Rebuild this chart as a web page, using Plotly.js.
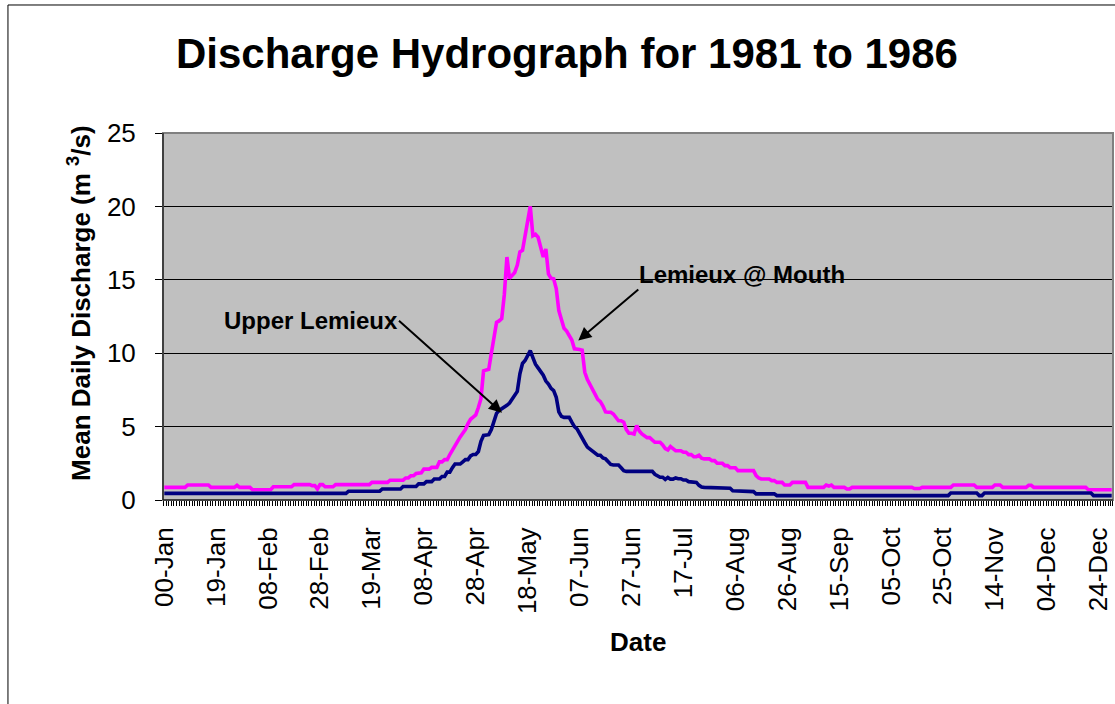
<!DOCTYPE html>
<html>
<head>
<meta charset="utf-8">
<script src="https://cdn.plot.ly/plotly-3.0.1.min.js"></script>
<style>html,body{margin:0;padding:0;background:#fff;}#chart{width:1115px;height:704px;}</style>
</head>
<body>
<div id="chart"></div>
<script>
// Tick labels (every 20th daily category)
const tickLabels = ["00-Jan","19-Jan","08-Feb","28-Feb","19-Mar","08-Apr","28-Apr","18-May","07-Jun","27-Jun","17-Jul","06-Aug","26-Aug","15-Sep","05-Oct","25-Oct","14-Nov","04-Dec","24-Dec"];
const tickStep = 20;

// Lemieux @ Mouth – mean daily discharge (m3/s), one value per day-category
const lemieuxMouth = [
0.86,0.86,0.86,0.86,0.86,0.86,0.86,0.86,0.86,1.02,
1.02,1.02,1.02,1.02,1.02,1.02,1.02,1.02,0.86,0.86,
0.86,0.86,0.86,0.86,0.86,0.86,0.86,0.86,1.0,0.86,
0.86,0.86,0.86,0.86,0.7,0.7,0.7,0.7,0.7,0.7,
0.7,0.7,0.9,0.9,0.9,0.9,0.9,0.9,0.9,0.9,
1.05,1.05,1.05,1.05,1.05,1.05,1.05,0.98,0.98,0.75,
1.05,1.05,0.9,0.9,0.9,0.9,1.05,1.05,1.05,1.05,
1.05,1.05,1.05,1.05,1.05,1.05,1.05,1.05,1.05,1.05,
1.2,1.2,1.2,1.2,1.2,1.2,1.2,1.35,1.35,1.35,
1.35,1.35,1.35,1.5,1.5,1.65,1.65,1.8,1.85,1.85,
2.1,2.1,2.1,2.22,2.22,2.22,2.6,2.6,2.75,2.75,
3.1,3.4,3.8,4.1,4.3,4.55,4.8,5.2,5.5,5.65,
5.8,6.3,6.9,8.8,8.85,8.9,10.0,11.2,12.1,12.2,
12.35,14.0,16.55,15.1,15.3,15.5,16.0,16.9,17.0,18.0,
18.9,20.0,18.0,18.1,17.9,17.2,16.55,17.1,15.4,15.1,
15.07,14.4,12.9,12.3,11.7,11.5,11.2,10.9,10.3,10.3,
10.25,10.2,8.7,8.2,7.9,7.5,7.2,6.85,6.7,6.4,
6.0,5.98,5.98,5.86,5.6,5.4,5.4,5.3,4.8,4.55,
4.55,4.5,5.07,4.7,4.5,4.35,4.25,4.25,4.1,3.93,
3.93,3.93,3.75,3.5,3.41,3.64,3.5,3.36,3.36,3.36,
3.25,3.25,3.09,3.09,2.95,2.95,3.05,2.85,2.8,2.8,
2.8,2.68,2.68,2.5,2.5,2.5,2.34,2.34,2.2,2.2,
2.2,2.0,2.0,2.0,2.0,2.0,2.0,2.0,1.66,1.5,
1.43,1.43,1.43,1.43,1.32,1.32,1.2,1.2,1.2,1.02,
1.02,1.02,1.2,1.2,1.2,1.2,1.2,1.2,0.86,0.86,
0.86,0.86,0.86,0.86,0.86,1.02,0.95,1.02,0.86,0.86,
0.86,0.86,0.86,0.75,0.75,0.86,0.86,0.86,0.86,0.86,
0.86,0.86,0.86,0.86,0.86,0.86,0.86,0.86,0.86,0.86,
0.86,0.86,0.86,0.86,0.86,0.86,0.86,0.86,0.86,0.78,
0.78,0.78,0.86,0.86,0.86,0.86,0.86,0.86,0.86,0.86,
0.86,0.86,0.86,0.86,1.02,1.02,1.02,1.02,1.02,1.02,
1.02,1.02,1.02,0.86,0.86,0.86,0.86,0.86,0.86,0.86,
1.02,1.02,1.02,0.86,0.86,0.86,0.86,0.86,0.86,0.86,
0.86,0.86,0.86,1.0,1.0,0.86,0.86,0.86,0.86,0.86,
0.86,0.86,0.86,0.86,0.86,0.86,0.86,0.86,0.86,0.86,
0.86,0.86,0.86,0.86,0.86,0.86,0.7,0.7,0.7,0.7,
0.7,0.7,0.7,0.7,0.7,0.7
];

// Upper Lemieux – mean daily discharge (m3/s)
const upperLemieux = [
0.45,0.45,0.45,0.45,0.45,0.45,0.45,0.45,0.45,0.45,
0.45,0.45,0.45,0.45,0.45,0.45,0.45,0.45,0.45,0.45,
0.45,0.45,0.45,0.45,0.45,0.45,0.45,0.45,0.45,0.45,
0.45,0.45,0.45,0.45,0.45,0.45,0.45,0.45,0.45,0.45,
0.45,0.45,0.45,0.45,0.45,0.45,0.45,0.45,0.45,0.45,
0.45,0.45,0.45,0.45,0.45,0.45,0.45,0.45,0.45,0.45,
0.45,0.45,0.45,0.45,0.45,0.45,0.45,0.45,0.45,0.45,
0.45,0.6,0.6,0.6,0.6,0.6,0.6,0.6,0.6,0.6,
0.6,0.6,0.6,0.6,0.75,0.75,0.75,0.75,0.75,0.75,
0.75,0.75,0.92,0.92,0.92,0.92,0.92,0.92,1.1,1.1,
1.1,1.25,1.25,1.25,1.43,1.43,1.43,1.6,1.6,1.9,
1.9,2.2,2.45,2.45,2.45,2.6,2.75,2.75,3.0,3.1,
3.1,3.3,4.0,4.4,4.45,4.45,4.8,5.4,5.9,6.1,
6.2,6.32,6.45,6.6,6.9,7.1,7.4,8.6,9.3,9.5,
9.8,10.18,9.7,9.25,9.0,8.75,8.5,8.1,7.9,7.6,
7.45,7.0,6.0,5.7,5.63,5.63,5.63,5.3,5.0,4.85,
4.5,4.2,3.9,3.6,3.45,3.3,3.15,3.05,3.05,2.86,
2.8,2.6,2.42,2.38,2.38,2.38,2.2,2.0,1.95,1.95,
1.95,1.95,1.95,1.95,1.95,1.95,1.95,1.95,1.95,1.75,
1.65,1.55,1.55,1.4,1.54,1.42,1.42,1.5,1.45,1.45,
1.36,1.36,1.25,1.25,1.2,1.2,1.0,0.88,0.86,0.86,
0.86,0.86,0.86,0.86,0.8,0.8,0.8,0.8,0.8,0.63,
0.63,0.63,0.63,0.57,0.57,0.57,0.57,0.57,0.42,0.42,
0.42,0.42,0.42,0.42,0.42,0.42,0.3,0.3,0.3,0.3,
0.3,0.3,0.3,0.3,0.3,0.3,0.3,0.3,0.3,0.3,
0.3,0.3,0.3,0.3,0.3,0.3,0.3,0.3,0.3,0.3,
0.3,0.3,0.3,0.3,0.3,0.3,0.3,0.3,0.3,0.3,
0.3,0.3,0.3,0.3,0.3,0.3,0.3,0.3,0.3,0.3,
0.3,0.3,0.3,0.3,0.3,0.3,0.3,0.3,0.3,0.3,
0.3,0.3,0.3,0.3,0.3,0.3,0.3,0.3,0.3,0.3,
0.3,0.3,0.3,0.48,0.48,0.48,0.48,0.48,0.48,0.48,
0.48,0.48,0.48,0.48,0.3,0.3,0.48,0.48,0.48,0.48,
0.48,0.48,0.48,0.48,0.48,0.48,0.48,0.48,0.48,0.48,
0.48,0.48,0.48,0.48,0.48,0.48,0.48,0.48,0.48,0.48,
0.48,0.48,0.48,0.48,0.48,0.48,0.48,0.48,0.48,0.48,
0.48,0.48,0.48,0.48,0.48,0.48,0.48,0.48,0.3,0.3,
0.3,0.3,0.3,0.3,0.3,0.3
];

const dayIndex = lemieuxMouth.map((_, i) => i);
const nCats = dayIndex.length;
const xRange = [-0.5, nCats - 0.5];
const tickVals = tickLabels.map((_, i) => i * tickStep);
const FONT = "Liberation Sans, Arial, sans-serif";

// Plot-area geometry (margins) and Excel-style tick marks at every category boundary,
// snapped to whole pixels so they stay crisp, drawn just below the x axis line.
const M = {l: 163, r: 2, t: 133, b: 204};
const PLOT_W = 1115 - M.l - M.r, PLOT_H = 704 - M.t - M.b;
const tickDepth = 6 / PLOT_H;
let boundaryPath = '';
for (let b = 0; b <= nCats; b++) {
  const px = Math.round(b * PLOT_W / nCats) + 0.5;
  const xp = (Math.min(px, PLOT_W - 0.5) / PLOT_W).toFixed(6);
  boundaryPath += 'M' + xp + ',0L' + xp + ',' + (-tickDepth).toFixed(5);
}

const traces = [
  {x: dayIndex, y: lemieuxMouth, type: 'scatter', mode: 'lines', name: 'Lemieux @ Mouth',
   line: {color: '#FF00FF', width: 3.6}, hoverinfo: 'skip'},
  {x: dayIndex, y: upperLemieux, type: 'scatter', mode: 'lines', name: 'Upper Lemieux',
   line: {color: '#000080', width: 3.6}, hoverinfo: 'skip'}
];

const layout = {
  width: 1115, height: 704,
  margin: M,
  paper_bgcolor: '#FFFFFF',
  plot_bgcolor: '#C0C0C0',
  showlegend: false,
  font: {family: FONT, color: '#000'},
  title: {text: 'Discharge Hydrograph for 1981 to 1986', font: {family: FONT, size: 42, color: '#000', weight: 'bold'},
          xref: 'container', x: 0.5085, xanchor: 'center', yref: 'container', y: 0.925, yanchor: 'middle'},
  xaxis: {
    range: xRange, autorange: false,
    tickmode: 'array', tickvals: tickVals, ticktext: tickLabels,
    ticks: '', tickangle: -90, ticklabelstandoff: 16,
    tickfont: {family: FONT, size: 26, color: '#000'},
    showgrid: false, zeroline: false,
    showline: true, linecolor: '#000', linewidth: 1
  },
  yaxis: {
    range: [0, 25], autorange: false, tickmode: 'linear', tick0: 0, dtick: 5,
    ticks: 'outside', ticklen: 7, tickwidth: 1, tickcolor: '#000',
    ticklabelstandoff: 14,
    tickfont: {family: FONT, size: 26, color: '#000'},
    showgrid: true, gridcolor: '#000', gridwidth: 1,
    zeroline: false, showline: true, linecolor: '#000', linewidth: 1
  },
  shapes: [
    {type: 'path', xref: 'paper', yref: 'paper', path: boundaryPath,
     line: {color: '#000000', width: 1}, layer: 'above'},
    {type: 'rect', xref: 'paper', yref: 'paper', x0: 0, x1: 1, y0: 0, y1: 1,
     line: {color: '#808080', width: 2}, layer: 'above'},
    {type: 'line', xref: 'paper', yref: 'paper', x0: 0, x1: 0, y0: 0, y1: 1, line: {color: '#000', width: 1}, layer: 'above'},
    {type: 'line', xref: 'paper', yref: 'paper', x0: 0, x1: 1, y0: 0, y1: 0, line: {color: '#000', width: 1}, layer: 'above'},
    {type: 'path', xref: 'paper', yref: 'paper',
     path: 'M -0.1632,-0.6 L -0.1632,1.3488 L 1.01,1.3488', line: {color: '#000', width: 1}}
  ],
  annotations: [
    {text: 'Mean Daily Discharge (m <sup>3</sup>/s)', textangle: -90, showarrow: false,
     xref: 'paper', yref: 'paper', x: -0.0874, y: 0.537, xanchor: 'center', yanchor: 'middle',
     font: {family: FONT, size: 26, weight: 'bold'}},
    {text: 'Date', showarrow: false, xref: 'paper', yref: 'paper', x: 0.5, y: -0.387,
     xanchor: 'center', yanchor: 'middle', font: {family: FONT, size: 26, weight: 'bold'}},
    {text: 'Upper Lemieux', showarrow: true, xref: 'x', yref: 'y', x: 130.1, y: 5.95, ax: -103, ay: -92,
     xanchor: 'right', yanchor: 'middle', borderpad: 0,
     arrowhead: 2, arrowsize: 1.3, arrowwidth: 2, arrowcolor: '#000', standoff: 0,
     font: {family: FONT, size: 24, weight: 'bold'}},
    {text: 'Lemieux @ Mouth', showarrow: true, xref: 'x', yref: 'y', x: 159.5, y: 10.87, ax: 60, ay: -51,
     xanchor: 'left', yanchor: 'bottom', borderpad: 0,
     arrowhead: 2, arrowsize: 1.3, arrowwidth: 2, arrowcolor: '#000', standoff: 0,
     font: {family: FONT, size: 24, weight: 'bold'}}
  ]
};

Plotly.newPlot('chart', traces, layout, {staticPlot: true, displayModeBar: false});
</script>
</body>
</html>
